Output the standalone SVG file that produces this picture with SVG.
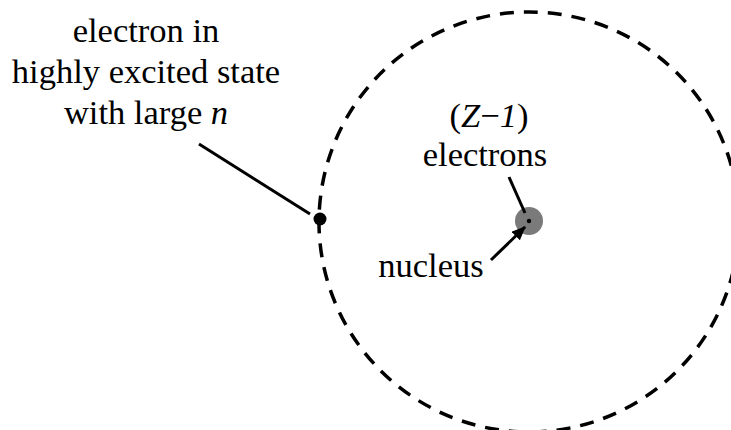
<svg xmlns="http://www.w3.org/2000/svg" width="731" height="430" viewBox="0 0 731 430">
<style>
text{font-family:"Liberation Serif","Times New Roman",serif;font-size:34.5px;fill:#000;text-anchor:middle}
.it{font-style:italic}
.ln{stroke:#000;stroke-width:3;fill:none}
</style>
<defs>
<marker id="ah" markerWidth="14" markerHeight="12" refX="13" refY="6" orient="auto" markerUnits="userSpaceOnUse" viewBox="0 0 14 12">
<path d="M0,0 L14,6 L0,12 Z" fill="#000"/>
</marker>
</defs>
<rect width="731" height="430" fill="#fff"/>
<g id="orbit">
<circle cx="529" cy="222" r="210" fill="none" stroke="#000" stroke-width="3.5" stroke-dasharray="14,10"/>
</g>
<g id="nucleus">
<circle cx="529" cy="221" r="14" fill="#7a7a7a"/>
<circle cx="529" cy="221" r="2.2" fill="#000"/>
</g>
<g id="electron">
<circle cx="320" cy="219" r="6.5" fill="#000"/>
</g>
<g id="connectors">
<line class="ln" x1="199" y1="144" x2="310" y2="214"/>
<line class="ln" x1="509" y1="177" x2="525" y2="213"/>
<line class="ln" x1="491" y1="260" x2="525" y2="227" marker-end="url(#ah)"/>
</g>
<g id="label-electron">
<text x="146" y="42">electron in</text>
<text x="146" y="83">highly excited state</text>
<text x="146" y="124">with large <tspan class="it">n</tspan></text>
</g>
<g id="label-z">
<text x="489" y="127">(<tspan class="it">Z</tspan>−<tspan class="it">1</tspan>)</text>
<text x="485" y="166">electrons</text>
</g>
<g id="label-nucleus">
<text x="431" y="277">nucleus</text>
</g>
</svg>
